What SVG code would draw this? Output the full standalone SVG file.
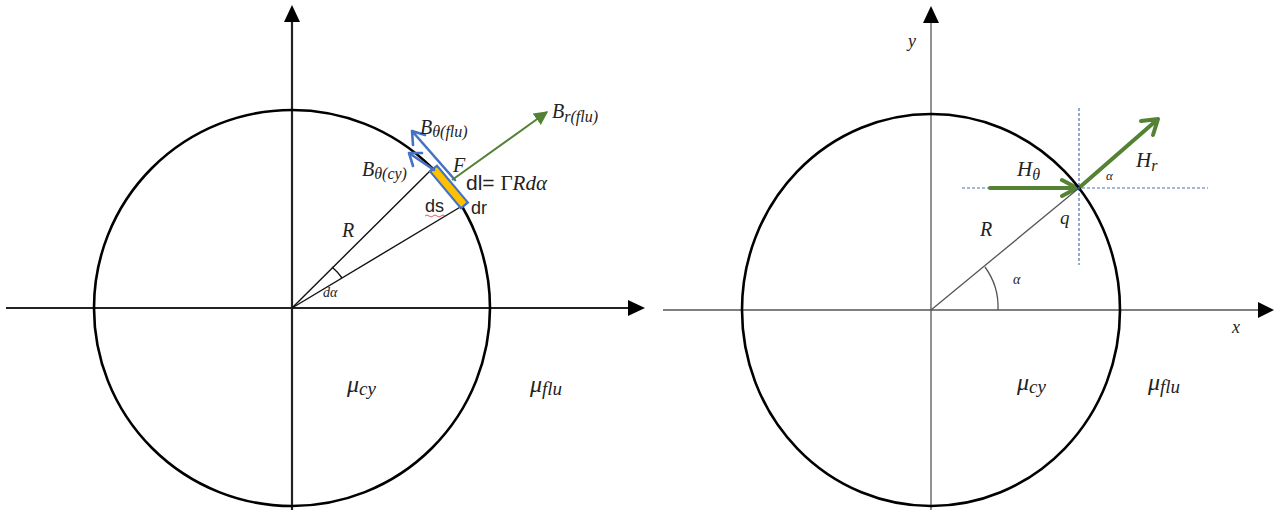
<svg xmlns="http://www.w3.org/2000/svg" width="1276" height="513" viewBox="0 0 1276 513">
<defs>
<style>
.ax{stroke:#222;stroke-width:2.2;fill:none}
.circ{stroke:#000;stroke-width:2.6;fill:none}
.thin{stroke:#111;stroke-width:1.4;fill:none}
.gray{stroke:#555;stroke-width:1.3;fill:none}
.dash{stroke:#4a6fb5;stroke-width:1.2;stroke-dasharray:3 2;fill:none}
.blue{stroke:#4472c4;stroke-width:2.6;fill:none;stroke-linecap:round;stroke-linejoin:round}
.gr{stroke:#548235;stroke-width:2;fill:none}
.grt{stroke:#548235;stroke-width:4;fill:none;stroke-linecap:round;stroke-linejoin:round}
.m{font-family:"Liberation Serif","DejaVu Serif",serif;font-style:italic;fill:#222}
.u{font-family:"Liberation Serif","DejaVu Serif",serif;fill:#222}
.s{font-family:"Liberation Sans","DejaVu Sans",sans-serif;fill:#222}
</style>
<marker id="gh" viewBox="0 0 10 10" refX="9" refY="5" markerWidth="7" markerHeight="7" orient="auto"><path d="M0,0 L10,5 L0,10 z" fill="#548235"/></marker>
</defs>

<g id="left-axes">
<line class="ax" x1="6" y1="308" x2="628" y2="308"/>
<polygon points="628,300 645,308 628,316" fill="#000"/>
<line class="ax" x1="292" y1="510" x2="292" y2="22"/>
<polygon points="284,22 292,5 300,22" fill="#000"/>
</g>

<g id="left-circle">
<circle class="circ" cx="292" cy="308" r="198"/>
<line class="thin" x1="292" y1="308" x2="433" y2="168"/>
<line class="thin" x1="292" y1="308" x2="462" y2="206"/>
<path class="thin" d="M332,267 A58,58 0 0 1 342,278"/>
</g>

<g id="left-element">
<rect x="-24" y="-4.5" width="48" height="9" fill="#ffc000" stroke="#4472c4" stroke-width="2.2" transform="translate(449,187) rotate(50)"/>
</g>

<g id="connectors">
<path class="blue" d="M455,180 L412,131 M412,131 L413,145 M412,131 L425,135"/>
<path class="blue" d="M434,170 L409,153 M409,153 L413,166 M409,153 L422,153"/>
<line class="gr" x1="452" y1="180" x2="547" y2="112" marker-end="url(#gh)"/>
<line class="dash" x1="962" y1="188" x2="1208" y2="188"/>
<line class="dash" x1="1079" y1="108" x2="1079" y2="265"/>
<path class="grt" d="M990,188 L1077,188 M1077,188 L1062,180 M1077,188 L1062,196"/>
<path class="grt" d="M1080,187 L1158,119 M1158,119 L1141,121 M1158,119 L1153,135"/>
</g>

<g id="left-labels">
<text class="m" x="420" y="134" font-size="20">B<tspan font-size="16" dy="3">θ(flu)</tspan></text>
<text class="m" x="552" y="118" font-size="20">B<tspan font-size="16" dy="4">r(flu)</tspan></text>
<text class="m" x="362" y="176" font-size="20">B<tspan font-size="16" dy="3">θ(cy)</tspan></text>
<text class="m" x="453" y="172" font-size="20">F</text>
<text x="466" y="190" font-size="21"><tspan class="s">dl= </tspan><tspan class="u">Γ</tspan><tspan class="m">Rdα</tspan></text>
<text class="s" x="425" y="212" font-size="18">ds</text>
<path d="M425,216 q2,-2 4,0 t4,0 t4,0 t4,0 t4,0" stroke="#e03030" stroke-width="0.8" fill="none"/>
<text class="s" x="471" y="214" font-size="18">dr</text>
<text class="m" x="342" y="237" font-size="20">R</text>
<text class="m" x="323" y="297" font-size="14">dα</text>
<text class="m" x="347" y="392" font-size="24">μ<tspan font-size="19" dy="3">cy</tspan></text>
<text class="m" x="530" y="392" font-size="24">μ<tspan font-size="19" dy="3">flu</tspan></text>
</g>

<g id="right-axes">
<line class="gray" x1="663" y1="310" x2="1258" y2="310" stroke-width="1.8"/>
<polygon points="1258,302 1274,310 1258,318" fill="#000"/>
<line class="gray" x1="931" y1="510" x2="931" y2="23" stroke-width="1.8"/>
<polygon points="923,23 931,6 939,23" fill="#000"/>
<text class="m" x="908" y="47" font-size="18">y</text>
<text class="m" x="1232" y="333" font-size="18">x</text>
</g>

<g id="right-circle">
<ellipse class="circ" cx="931" cy="310" rx="189" ry="196"/>
<line class="gray" x1="931" y1="310" x2="1079" y2="188"/>
<path class="gray" d="M985,267 A68,68 0 0 1 998,310" stroke-width="1.8"/>
<circle cx="1079" cy="188" r="1.5" fill="#2a4a8a"/>
</g>

<g id="right-labels">
<text class="m" x="1017" y="176" font-size="21">H<tspan font-size="16" dy="4">θ</tspan></text>
<text class="m" x="1136" y="167" font-size="21">H<tspan font-size="16" dy="4">r</tspan></text>
<text class="m" x="1106" y="180" font-size="13">α</text>
<text class="m" x="1060" y="224" font-size="19">q</text>
<text class="m" x="980" y="236" font-size="20">R</text>
<text class="m" x="1013" y="284" font-size="14">α</text>
<text class="m" x="1017" y="390" font-size="24">μ<tspan font-size="19" dy="3">cy</tspan></text>
<text class="m" x="1148" y="390" font-size="24">μ<tspan font-size="19" dy="3">flu</tspan></text>
</g>
</svg>
